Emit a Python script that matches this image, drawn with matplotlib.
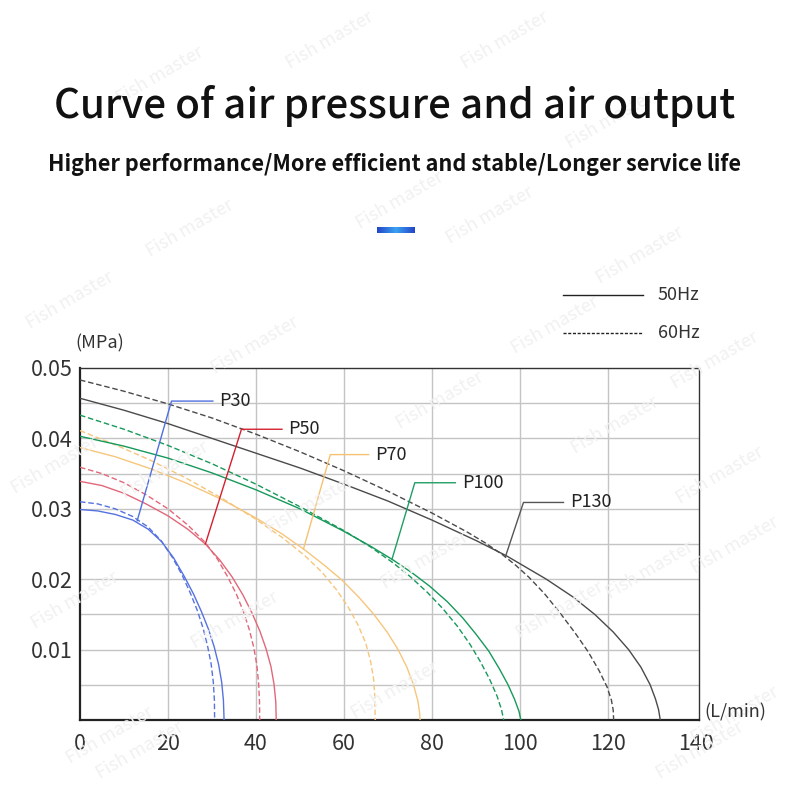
import numpy as np
import matplotlib.pyplot as plt
from matplotlib.lines import Line2D
from matplotlib.colors import LinearSegmentedColormap

plt.rcParams['font.family'] = ['Noto Sans CJK JP', 'DejaVu Sans']

W, H = 790, 789

# air output (L/min) vs air pressure (MPa)
p30_50_x = [0, 4, 8, 12, 15.5, 18.6, 21.3, 23.7, 25.8, 27.6, 29.2, 30.5, 31.5, 32.2, 32.6, 32.75]
p30_50_y = [0.0299, 0.0297, 0.0292, 0.0284, 0.0271, 0.0253, 0.0230, 0.0204, 0.0179, 0.0154,
            0.0129, 0.0104, 0.0079, 0.0054, 0.0028, 0]
p30_60_x = [0, 4, 8, 12, 15.5, 18.4, 21.0, 23.2, 25.1, 26.7, 28.0, 29.0, 29.8, 30.3, 30.55, 30.6]
p30_60_y = [0.0310, 0.0307, 0.0300, 0.0289, 0.0274, 0.0255, 0.0231, 0.0206, 0.0180, 0.0155,
            0.0130, 0.0105, 0.0080, 0.0054, 0.0028, 0]

p50_50_x = [0, 5, 10, 15, 20, 24.5, 28.5, 31.8, 34.6, 37.0, 39.1, 40.9, 42.3, 43.4, 44.1, 44.5, 44.6]
p50_50_y = [0.0339, 0.0333, 0.0322, 0.0307, 0.0290, 0.0271, 0.0250, 0.0227, 0.0203, 0.0178,
            0.0152, 0.0126, 0.0101, 0.0076, 0.0051, 0.0026, 0]
p50_60_x = [0, 5, 10, 15, 20, 24.5, 28.5, 31.3, 33.6, 35.6, 37.2, 38.5, 39.5, 40.2, 40.6, 40.8, 40.85]
p50_60_y = [0.0359, 0.0350, 0.0337, 0.0320, 0.0300, 0.0277, 0.0252, 0.0228, 0.0203, 0.0178,
            0.0153, 0.0128, 0.0103, 0.0078, 0.0052, 0.0026, 0]

p70_50_x = [0, 8, 16, 24, 32, 40, 46, 51, 55.5, 59.5, 63.3, 66.8, 69.8, 72.3, 74.3, 75.8, 76.8,
            77.2, 77.3]
p70_50_y = [0.0387, 0.0374, 0.0357, 0.0337, 0.0314, 0.0287, 0.0264, 0.0242, 0.0220, 0.0199,
            0.0175, 0.0150, 0.0125, 0.0100, 0.0075, 0.0050, 0.0027, 0.0010, 0]
p70_60_x = [0, 8, 16, 24, 32, 40, 46, 51, 55, 58.3, 61, 63.2, 64.9, 66.0, 66.7, 67.0, 67.1]
p70_60_y = [0.0411, 0.0391, 0.0369, 0.0344, 0.0316, 0.0285, 0.0259, 0.0234, 0.0210, 0.0185,
            0.0160, 0.0135, 0.0110, 0.0085, 0.0060, 0.0035, 0]

p100_50_x = [0, 10, 20, 30, 40, 50, 60, 66, 71, 75.5, 79.5, 83.5, 87, 90, 92.9, 95.3, 97.3, 98.8,
             99.8, 100.2]
p100_50_y = [0.0403, 0.0389, 0.0372, 0.0351, 0.0327, 0.0300, 0.0268, 0.0247, 0.0228, 0.0209,
             0.0190, 0.0168, 0.0145, 0.0122, 0.0098, 0.0073, 0.0050, 0.0029, 0.0012, 0]
p100_60_x = [0, 10, 20, 30, 40, 50, 60, 66, 71, 75, 79, 82.5, 85.8, 88.6, 91, 93.1, 94.8, 95.8, 96.3]
p100_60_y = [0.0433, 0.0413, 0.0390, 0.0364, 0.0335, 0.0303, 0.0269, 0.0246, 0.0224, 0.0204,
             0.0181, 0.0158, 0.0133, 0.0108, 0.0083, 0.0058, 0.0034, 0.0015, 0]

p130_50_x = [0, 10, 20, 30, 40, 50, 60, 70, 80, 90, 97, 100, 106, 112, 117, 121.2, 124.7, 127.5,
             129.6, 130.8, 131.5, 131.9]
p130_50_y = [0.0457, 0.0440, 0.0421, 0.0400, 0.0379, 0.0358, 0.0335, 0.0311, 0.0284, 0.0255,
             0.0233, 0.0222, 0.0200, 0.0175, 0.0150, 0.0125, 0.0100, 0.0075, 0.0050, 0.0030,
             0.0015, 0]
p130_60_x = [0, 10, 20, 30, 40, 50, 60, 70, 80, 88, 92, 96, 99, 102, 105.5, 109, 112.5, 115.5, 118,
             119.8, 120.8, 121.2, 121.3]
p130_60_y = [0.0483, 0.0467, 0.0449, 0.0429, 0.0406, 0.0381, 0.0354, 0.0325, 0.0294, 0.0267,
             0.0252, 0.0235, 0.0220, 0.0203, 0.0180, 0.0153, 0.0124, 0.0097, 0.0070, 0.0047,
             0.0028, 0.0014, 0]

models = ['P30', 'P50', 'P70', 'P100', 'P130']
x_ticks = [0, 20, 40, 60, 80, 100, 120, 140]
y_ticks = [0.01, 0.02, 0.03, 0.04, 0.05]
y_tick_labels = ['0.01', '0.02', '0.03', '0.04', '0.05']

curve_colors = ['#5572e0', '#e2677a', '#f6c67c', '#16995a', '#4a4a4a']
leader_colors = ['#4f6fe0', '#d4202e', '#f5c272', '#1f9e63', '#555555']

# leader line: point on curve -> elbow -> end of the short horizontal stroke
leaders = [
    [(13.0, 0.0283), (20.8, 0.0453), (30.2, 0.0453)],
    [(28.5, 0.0250), (36.7, 0.0413), (45.9, 0.0413)],
    [(50.8, 0.0243), (56.9, 0.0377), (65.6, 0.0377)],
    [(70.9, 0.0228), (76.1, 0.0337), (85.3, 0.0337)],
    [(96.7, 0.0232), (100.8, 0.0309), (109.9, 0.0309)],
]

series = [
    (p30_50_x, p30_50_y, p30_60_x, p30_60_y),
    (p50_50_x, p50_50_y, p50_60_x, p50_60_y),
    (p70_50_x, p70_50_y, p70_60_x, p70_60_y),
    (p100_50_x, p100_50_y, p100_60_x, p100_60_y),
    (p130_50_x, p130_50_y, p130_60_x, p130_60_y),
]

fig = plt.figure(figsize=(W / 100, H / 100), dpi=100)
fig.patch.set_facecolor('white')


def fx(px):
    return px / W


def fy(py):
    return 1 - py / H


# faint watermarks
marks = [(505, 40), (610, 120), (190, 228), (490, 215), (70, 300), (640, 255),
         (255, 345), (555, 325), (440, 400), (715, 360), (55, 465), (615, 425),
         (165, 470), (310, 505), (720, 475), (75, 600), (425, 560), (735, 545),
         (235, 620), (650, 570), (395, 690), (560, 610), (110, 735), (735, 715),
         (330, 40), (160, 75), (400, 200), (140, 750), (700, 750)]
for mx, my in marks:
    fig.text(fx(mx), fy(my), 'Fish master', rotation=30, fontsize=13,
             color='#f1f1f1', ha='center', va='center', style='italic', zorder=0)

fig.text(0.5, fy(106), 'Curve of air pressure and air output', ha='center',
         va='center', fontsize=29, fontweight='medium', color='#111111')
fig.text(0.5, fy(165), 'Higher performance/More efficient and stable/Longer service life',
         ha='center', va='center', fontsize=15.6, fontweight='bold', color='#111111')

# small blue gradient bar
bar = fig.add_axes([fx(377), fy(233), 38 / W, 6 / H])
cmap = LinearSegmentedColormap.from_list('bar', ['#2346c8', '#3aa2f2', '#2346c8'])
bar.imshow(np.linspace(0, 1, 100).reshape(1, -1), cmap=cmap, aspect='auto')
bar.axis('off')

# legend
fig.add_artist(Line2D([fx(563), fx(643)], [fy(295), fy(295)], color='#222222', lw=1.0))
fig.add_artist(Line2D([fx(563), fx(643)], [fy(333), fy(333)], color='#222222', lw=1.0,
                      dashes=(2.2, 1.2)))
fig.text(fx(658), fy(295), '50Hz', va='center', fontsize=13, color='#333333')
fig.text(fx(658), fy(333), '60Hz', va='center', fontsize=13, color='#333333')

ax = fig.add_axes([fx(80), fy(720), (699 - 80) / W, (720 - 368) / H])
ax.set_xlim(0, 140.7)
ax.set_ylim(0, 0.05)
ax.patch.set_alpha(0)

# grid
for gx in x_ticks[1:-1]:
    ax.axvline(gx, color='#c4c4c4', lw=1.0, zorder=1)
for gy in np.arange(0.005, 0.0499, 0.005):
    ax.axhline(gy, color='#c4c4c4', lw=1.0, zorder=1)

for (x50, y50, x60, y60), c in zip(series, curve_colors):
    ax.plot(x50, y50, color=c, lw=1.0, zorder=3)
    ax.plot(x60, y60, color=c, lw=1.0, dashes=(4, 2), zorder=3)

for name, pts, c in zip(models, leaders, leader_colors):
    lx = [p[0] for p in pts]
    ly = [p[1] for p in pts]
    ax.plot(lx, ly, color=c, lw=1.0, zorder=4)
    ax.text(lx[-1] + 1.5, ly[-1], name, va='center', ha='left', fontsize=13,
            color='#222222', zorder=5)

ax.set_xticks(x_ticks)
ax.set_yticks(y_ticks)
ax.set_yticklabels(y_tick_labels)
ax.tick_params(which='both', length=0)
ax.tick_params(axis='x', pad=9, labelsize=15.5, labelcolor='#333333')
ax.tick_params(axis='y', pad=5, labelsize=15.5, labelcolor='#333333')

for side in ['top', 'right']:
    ax.spines[side].set_color('#333333')
    ax.spines[side].set_linewidth(1.0)
for side in ['left', 'bottom']:
    ax.spines[side].set_color('#222222')
    ax.spines[side].set_linewidth(1.6)

fig.text(fx(75), fy(343), '(MPa)', va='center', ha='left', fontsize=13, color='#333333')
fig.text(fx(704), fy(712), '(L/min)', va='center', ha='left', fontsize=13, color='#333333')

fig.savefig('out.png', dpi=100)
